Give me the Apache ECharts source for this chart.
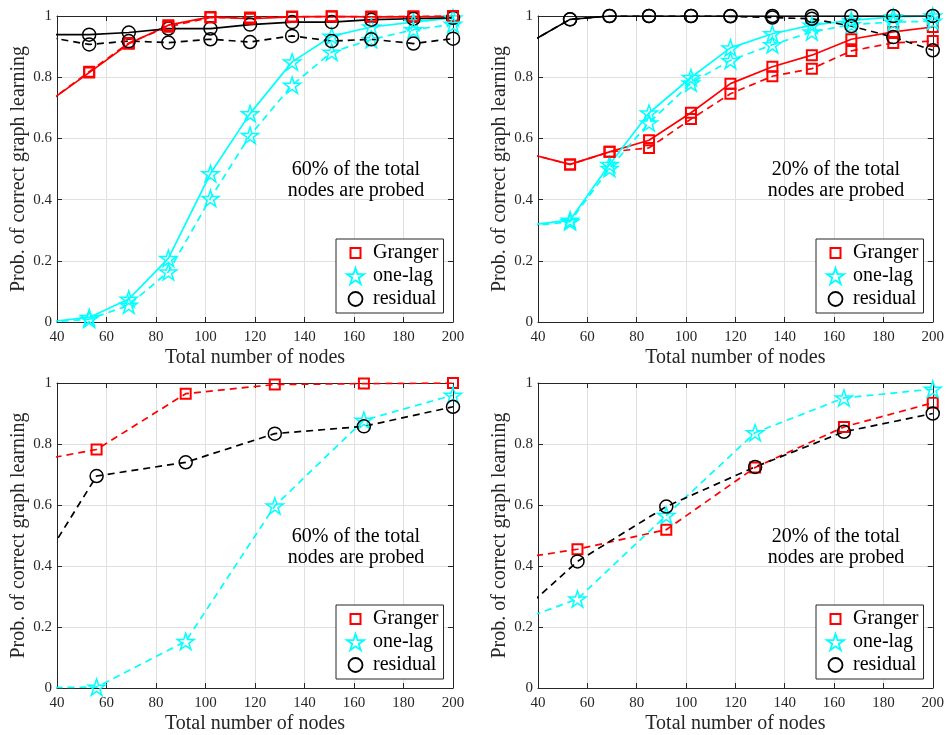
<!DOCTYPE html>
<html>
<head>
<meta charset="utf-8">
<script src="https://cdn.jsdelivr.net/npm/echarts@6/dist/echarts.min.js"></script>
<style>html,body{margin:0;padding:0;background:#fff;}#c{width:947px;height:735px;}</style>
</head>
<body>
<div id="c"></div>
<script>
// ---- data ----
var xTop = [37, 53, 69, 85, 102, 118, 135, 151, 167, 184, 200];
var xBottom = [20, 56, 92, 128, 164, 200];
var xTicks = [40, 60, 80, 100, 120, 140, 160, 180, 200];
var yTicks = [0, 0.2, 0.4, 0.6, 0.8, 1];
var seriesNames = ['Granger', 'one-lag', 'residual'];

// top-left: 60% probed (solid / dashed)
var grangerSolid60 = [0.722, 0.815, 0.909, 0.970, 0.997, 0.991, 0.997, 0.999, 0.997, 0.997, 0.999];
var grangerDashed60 = [0.722, 0.818, 0.912, 0.965, 0.995, 0.995, 0.998, 0.998, 0.998, 0.999, 1.0];
var oneLagSolid60 = [0.001, 0.015, 0.075, 0.208, 0.485, 0.681, 0.850, 0.934, 0.964, 0.980, 0.994];
var oneLagDashed60 = [0.0, 0.009, 0.055, 0.164, 0.404, 0.610, 0.774, 0.882, 0.923, 0.955, 0.973];
var residualSolid60 = [0.939, 0.939, 0.946, 0.959, 0.959, 0.972, 0.980, 0.980, 0.988, 0.991, 0.994];
var residualDashed60 = [0.930, 0.907, 0.918, 0.913, 0.924, 0.915, 0.935, 0.918, 0.924, 0.910, 0.926];

// top-right: 20% probed (solid / dashed)
var grangerSolid20 = [0.548, 0.515, 0.556, 0.594, 0.684, 0.779, 0.834, 0.872, 0.924, 0.948, 0.964];
var grangerDashed20 = [0.548, 0.515, 0.556, 0.569, 0.663, 0.746, 0.803, 0.828, 0.886, 0.912, 0.918];
var oneLagSolid20 = [0.317, 0.333, 0.515, 0.683, 0.799, 0.896, 0.942, 0.970, 0.986, 0.997, 1.0];
var oneLagDashed20 = [0.314, 0.328, 0.502, 0.651, 0.781, 0.855, 0.906, 0.948, 0.972, 0.980, 0.983];
var residualSolid20 = [0.915, 0.989, 1.0, 1.0, 1.0, 1.0, 1.0, 1.0, 1.0, 1.0, 1.0];
var residualDashed20 = [0.915, 0.989, 1.0, 1.0, 1.0, 0.999, 0.995, 0.991, 0.967, 0.931, 0.888];

// bottom-left: 60% probed
var grangerB60 = [0.728, 0.782, 0.965, 0.995, 0.998, 1.0];
var oneLagB60 = [0.0, 0.003, 0.153, 0.597, 0.878, 0.960];
var residualB60 = [0.225, 0.695, 0.740, 0.834, 0.858, 0.922];

// bottom-right: 20% probed
var grangerB20 = [0.41, 0.455, 0.519, 0.723, 0.856, 0.935];
var oneLagB20 = [0.184, 0.292, 0.566, 0.837, 0.951, 0.980];
var residualB20 = [0.152, 0.415, 0.595, 0.725, 0.840, 0.900];

var note60 = '60% of the total\nnodes are probed';
var note20 = '20% of the total\nnodes are probed';
var xName = 'Total number of nodes';
var yName = 'Prob. of correct graph learning';

// ---- styling ----
var FONT = "'Liberation Serif', 'Times New Roman', serif";
var AXC = '#262626';
var GRIDC = '#e0e0e0';
var RED = '#ff0000', CYAN = '#00ffff', BLACK = '#000000';
var STAR = 'path://M50 0 L61.23 34.55 L97.55 34.55 L68.17 55.9 L79.39 90.45 L50 69.1 L20.61 90.45 L31.83 55.9 L2.45 34.55 L38.77 34.55 Z';
var ICON_SQ = 'path://M0 0 M17 17 M3.5 3.5 L13.5 3.5 L13.5 13.5 L3.5 13.5 Z';
var ICON_CI = 'path://M0 0 M17 17 M1.5 8.5 A7 7 0 1 1 15.5 8.5 A7 7 0 1 1 1.5 8.5 Z';

var grids = [
  {left: 57, top: 16, width: 396, height: 306},
  {left: 538, top: 16, width: 395, height: 306},
  {left: 57, top: 383, width: 396, height: 306},
  {left: 538, top: 383, width: 395, height: 306}
];

var xAxes = [], yAxes = [];
grids.forEach(function (g, i) {
  xAxes.push({
    type: 'value', gridIndex: i, min: 40, max: 200, interval: 20, position: 'bottom',
    name: xName, nameLocation: 'middle', nameGap: 26,
    nameTextStyle: {fontFamily: FONT, fontSize: 20, color: AXC},
    axisLine: {show: true, onZero: false, lineStyle: {color: AXC, width: 1}},
    axisTick: {show: true, inside: true, length: 5, lineStyle: {color: AXC}},
    axisLabel: {fontFamily: FONT, fontSize: 15, color: AXC, margin: 8},
    splitLine: {show: true, lineStyle: {color: GRIDC, width: 1}}
  });
  xAxes.push({
    type: 'value', gridIndex: i, min: 40, max: 200, interval: 20, position: 'top',
    axisLine: {show: true, onZero: false, lineStyle: {color: AXC, width: 1}},
    axisTick: {show: true, inside: true, length: 5, lineStyle: {color: AXC}},
    axisLabel: {show: false}, splitLine: {show: false}
  });
  yAxes.push({
    type: 'value', gridIndex: i, min: 0, max: 1, interval: 0.2, position: 'left',
    name: yName, nameLocation: 'middle', nameGap: 28,
    nameTextStyle: {fontFamily: FONT, fontSize: 20, color: AXC},
    axisLine: {show: true, onZero: false, lineStyle: {color: AXC, width: 1}},
    axisTick: {show: true, inside: true, length: 5, lineStyle: {color: AXC}},
    axisLabel: {fontFamily: FONT, fontSize: 15, color: AXC, margin: 5},
    splitLine: {show: true, lineStyle: {color: GRIDC, width: 1}}
  });
  yAxes.push({
    type: 'value', gridIndex: i, min: 0, max: 1, interval: 0.2, position: 'right',
    axisLine: {show: true, onZero: false, lineStyle: {color: AXC, width: 1}},
    axisTick: {show: true, inside: true, length: 5, lineStyle: {color: AXC}},
    axisLabel: {show: false}, splitLine: {show: false}
  });
});

var markerCfg = {
  'Granger': {symbol: 'rect', size: 10, color: RED, bw: 2},
  'one-lag': {symbol: STAR, size: 17, color: CYAN, bw: 1.5},
  'residual': {symbol: 'circle', size: 13, color: BLACK, bw: 1.5}
};

function mk(name, xs, ys, gridIdx, dashed) {
  var m = markerCfg[name];
  return {
    type: 'line', name: name,
    xAxisIndex: gridIdx * 2, yAxisIndex: gridIdx * 2,
    data: xs.map(function (x, k) { return [x, ys[k]]; }),
    clip: true, smooth: false,
    symbol: m.symbol, symbolSize: m.size, symbolKeepAspect: true, showAllSymbol: true,
    lineStyle: {color: m.color, width: 1.7, type: dashed ? [7, 5] : 'solid'},
    itemStyle: {color: 'rgba(255,255,255,0)', borderColor: m.color, borderWidth: m.bw},
    emphasis: {disabled: true},
    z: 3
  };
}

var series = [
  mk('Granger', xTop, grangerSolid60, 0, false),
  mk('one-lag', xTop, oneLagSolid60, 0, false),
  mk('residual', xTop, residualSolid60, 0, false),
  mk('Granger', xTop, grangerDashed60, 0, true),
  mk('one-lag', xTop, oneLagDashed60, 0, true),
  mk('residual', xTop, residualDashed60, 0, true),
  mk('Granger', xTop, grangerSolid20, 1, false),
  mk('one-lag', xTop, oneLagSolid20, 1, false),
  mk('residual', xTop, residualSolid20, 1, false),
  mk('Granger', xTop, grangerDashed20, 1, true),
  mk('one-lag', xTop, oneLagDashed20, 1, true),
  mk('residual', xTop, residualDashed20, 1, true),
  mk('Granger', xBottom, grangerB60, 2, true),
  mk('one-lag', xBottom, oneLagB60, 2, true),
  mk('residual', xBottom, residualB60, 2, true),
  mk('Granger', xBottom, grangerB20, 3, true),
  mk('one-lag', xBottom, oneLagB20, 3, true),
  mk('residual', xBottom, residualB20, 3, true)
];

var legendIcons = [ICON_SQ, STAR, ICON_CI];
var legendColors = [RED, CYAN, BLACK];
function mkLegend(left, top) {
  return {
    orient: 'vertical', left: left, top: top,
    padding: [4, 5, 4, 10], itemGap: 3, itemWidth: 17, itemHeight: 17,
    backgroundColor: '#ffffff', borderColor: AXC, borderWidth: 1,
    selectedMode: false,
    textStyle: {fontFamily: FONT, fontSize: 20, color: '#000', padding: [0, 0, 0, 4]},
    data: seriesNames.map(function (n, k) {
      return {name: n, icon: legendIcons[k],
        itemStyle: {color: 'rgba(255,255,255,0)', borderColor: legendColors[k], borderWidth: k === 0 ? 2 : 1.8}};
    })
  };
}

var legends = [mkLegend(336, 239), mkLegend(816, 239), mkLegend(336, 605), mkLegend(816, 605)];

function note(x, y, txt) {
  return {type: 'text', x: x, y: y, z: 10,
    style: {text: txt, fontFamily: FONT, fontSize: 20, fill: '#000', align: 'center', verticalAlign: 'middle', lineHeight: 21}};
}

var option = {
  animation: false,
  backgroundColor: '#ffffff',
  grid: grids,
  xAxis: xAxes,
  yAxis: yAxes,
  legend: legends,
  series: series,
  graphic: [note(356, 180.5, note60), note(836, 180.5, note20), note(356, 547, note60), note(836, 547, note20)]
};

var chart = echarts.init(document.getElementById('c'), null, {renderer: 'canvas'});
chart.setOption(option);
</script>
</body>
</html>
